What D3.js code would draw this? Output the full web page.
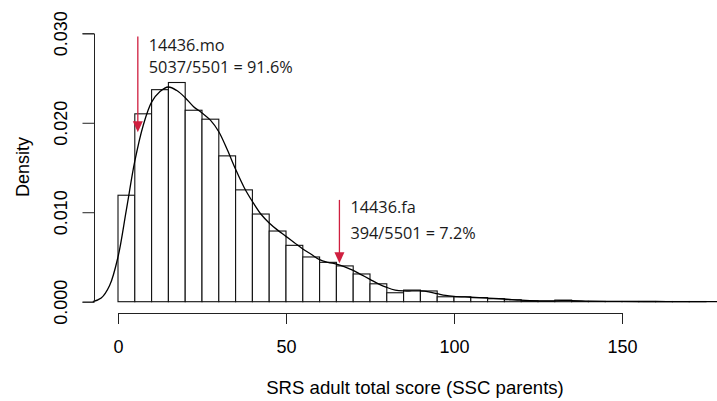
<!DOCTYPE html>
<html>
<head>
<meta charset="utf-8">
<script src="https://cdn.jsdelivr.net/npm/d3@7"></script>
<style>
  body { margin: 0; background: #fff; }
  svg { display: block; font-family: "Liberation Sans", Arial, sans-serif; }
  .axis text { font-size: 18px; fill: #000; }
  .axis path, .axis line { stroke: #222; stroke-width: 1; }
  .note text { font-family: "Open Sans", "Noto Sans", sans-serif; font-size: 16.3px; fill: #1a1a1a; }
</style>
</head>
<body>
<div id="canvas"></div>
<script>
// histogram: bins of width 5 starting at 0, density per bin
const binStart = [0,5,10,15,20,25,30,35,40,45,50,55,60,65,70,75,80,85,90,95,100,105,110,115,120,125,130,135,140,145,150,155,160,165,170];
const binDensity = [0.0119,0.0210,0.0237,0.0245,0.0214,0.0204,0.0163,0.0125,0.0098,0.0079,0.0063,0.0050,0.0044,0.0040,0.0031,0.0020,0.0010,0.0013,0.0012,0.00055,0.00055,0.00046,0.00033,0.00022,0.00010,0.00005,0.00018,0.00003,0.00003,0.00002,0.00002,0.00002,0.00002,0.00002,0.00002];

// kernel density curve
const curveX = [-7.5,-5,-2.5,0,2.5,5,7.5,10,12.5,15,17.5,20,22.5,25,27.5,30,32.5,35,37.5,40,42.5,45,47.5,50,52.5,55,57.5,60,62.5,65,67.5,70,72.5,75,77.5,80,82.5,85,87.5,90,92.5,95,97.5,100,105,110,115,120,125,130,135,140,145,150,160,170,182];
const curveY = [0,0.0004,0.0018,0.0050,0.0103,0.0157,0.0197,0.0223,0.0235,0.0240,0.0236,0.0228,0.0218,0.0211,0.0203,0.0190,0.0170,0.0148,0.0128,0.0112,0.0098,0.0088,0.0080,0.0073,0.0066,0.0059,0.0053,0.0047,0.0044,0.0042,0.0039,0.0035,0.0030,0.0025,0.0020,0.0016,0.0013,0.0012,0.0012,0.0012,0.0011,0.0009,0.0007,0.0006,0.0005,0.0004,0.0003,0.00017,0.0001,0.0001,0.00012,0.00007,0.00004,0.00003,0.00002,0.00001,0.00001];

const xTicks = [0,50,100,150];
const yTicks = [0,0.01,0.02,0.03];

// annotations: arrow x, arrow top / tip (density units), two text lines
const noteX = [5.9, 65.9];
const noteTop = [0.02965, 0.01138];
const noteTip = [0.01895, 0.00430];
const noteLabel = ["14436.mo", "14436.fa"];
const noteShare = ["5037/5501 = 91.6%", "394/5501 = 7.2%"];

const w = 717, h = 401;

const svg = d3.select("#canvas").append("svg")
  .attr("width", w).attr("height", h);

const x = d3.scaleLinear().domain([0, 150]).range([118, 622]);
const y = d3.scaleLinear().domain([0, 0.03]).range([301.7, 33.3]);

// bars
svg.append("g").selectAll("rect")
  .data(binStart)
  .enter().append("rect")
  .attr("x", d => x(d))
  .attr("width", d => x(d + 5) - x(d))
  .attr("y", (d, i) => y(binDensity[i]))
  .attr("height", (d, i) => y(0) - y(binDensity[i]))
  .style("fill", "#fff")
  .style("stroke", "#111")
  .style("stroke-width", 1.1);

// density line
const line = d3.line()
  .x(d => x(d[0]))
  .y(d => y(d[1]))
  .curve(d3.curveCatmullRom);
svg.append("path")
  .datum(curveX.map((v, i) => [v, curveY[i]]))
  .attr("d", line)
  .style("fill", "none")
  .style("stroke", "#000")
  .style("stroke-width", 1.3);

// x axis
const xAxis = d3.axisBottom(x).tickValues(xTicks).tickSizeOuter(0).tickSize(11).tickPadding(16.5);
svg.append("g")
  .classed("axis", true)
  .attr("transform", "translate(0,313)")
  .call(xAxis);

// y axis, labels rotated like R
const yAxis = d3.axisLeft(y).tickValues(yTicks).tickSizeOuter(0).tickSize(11.5).tickFormat(d3.format(".3f"));
const ya = svg.append("g")
  .classed("axis", true)
  .attr("transform", "translate(94,0)")
  .call(yAxis);
ya.selectAll(".tick text")
  .attr("x", 0).attr("y", 0).attr("dy", 0)
  .attr("text-anchor", "middle")
  .attr("transform", "translate(-27,0) rotate(-90)");

svg.selectAll(".domain").style("stroke", "#222");

// axis titles
svg.append("text")
  .attr("x", 415).attr("y", 393.5)
  .attr("text-anchor", "middle")
  .style("font-size", "18.6px")
  .text("SRS adult total score (SSC parents)");

svg.append("text")
  .attr("transform", "translate(28.5,167) rotate(-90)")
  .attr("text-anchor", "middle")
  .style("font-size", "18px")
  .text("Density");

// arrows with text
const red = "#cf1f3f";
const lineGap = [22.5, 25.7];
const firstGap = [14.3, 13.3];
noteX.forEach(function(nx, i){
  const g = svg.append("g").classed("note", true);
  const ax = x(nx), top = y(noteTop[i]), tip = y(noteTip[i]);
  g.append("line")
    .attr("x1", ax).attr("x2", ax)
    .attr("y1", top).attr("y2", tip - 8)
    .style("stroke", red).style("stroke-width", 1.3);
  g.append("path")
    .attr("d", "M" + (ax - 5) + "," + (tip - 11) + "L" + (ax + 5) + "," + (tip - 11) + "L" + ax + "," + tip + "Z")
    .style("fill", red);
  g.append("text")
    .attr("x", ax + 11).attr("y", top + firstGap[i])
    .text(noteLabel[i]);
  g.append("text")
    .attr("x", ax + 11).attr("y", top + firstGap[i] + lineGap[i])
    .text(noteShare[i]);
});
</script>
</body>
</html>
